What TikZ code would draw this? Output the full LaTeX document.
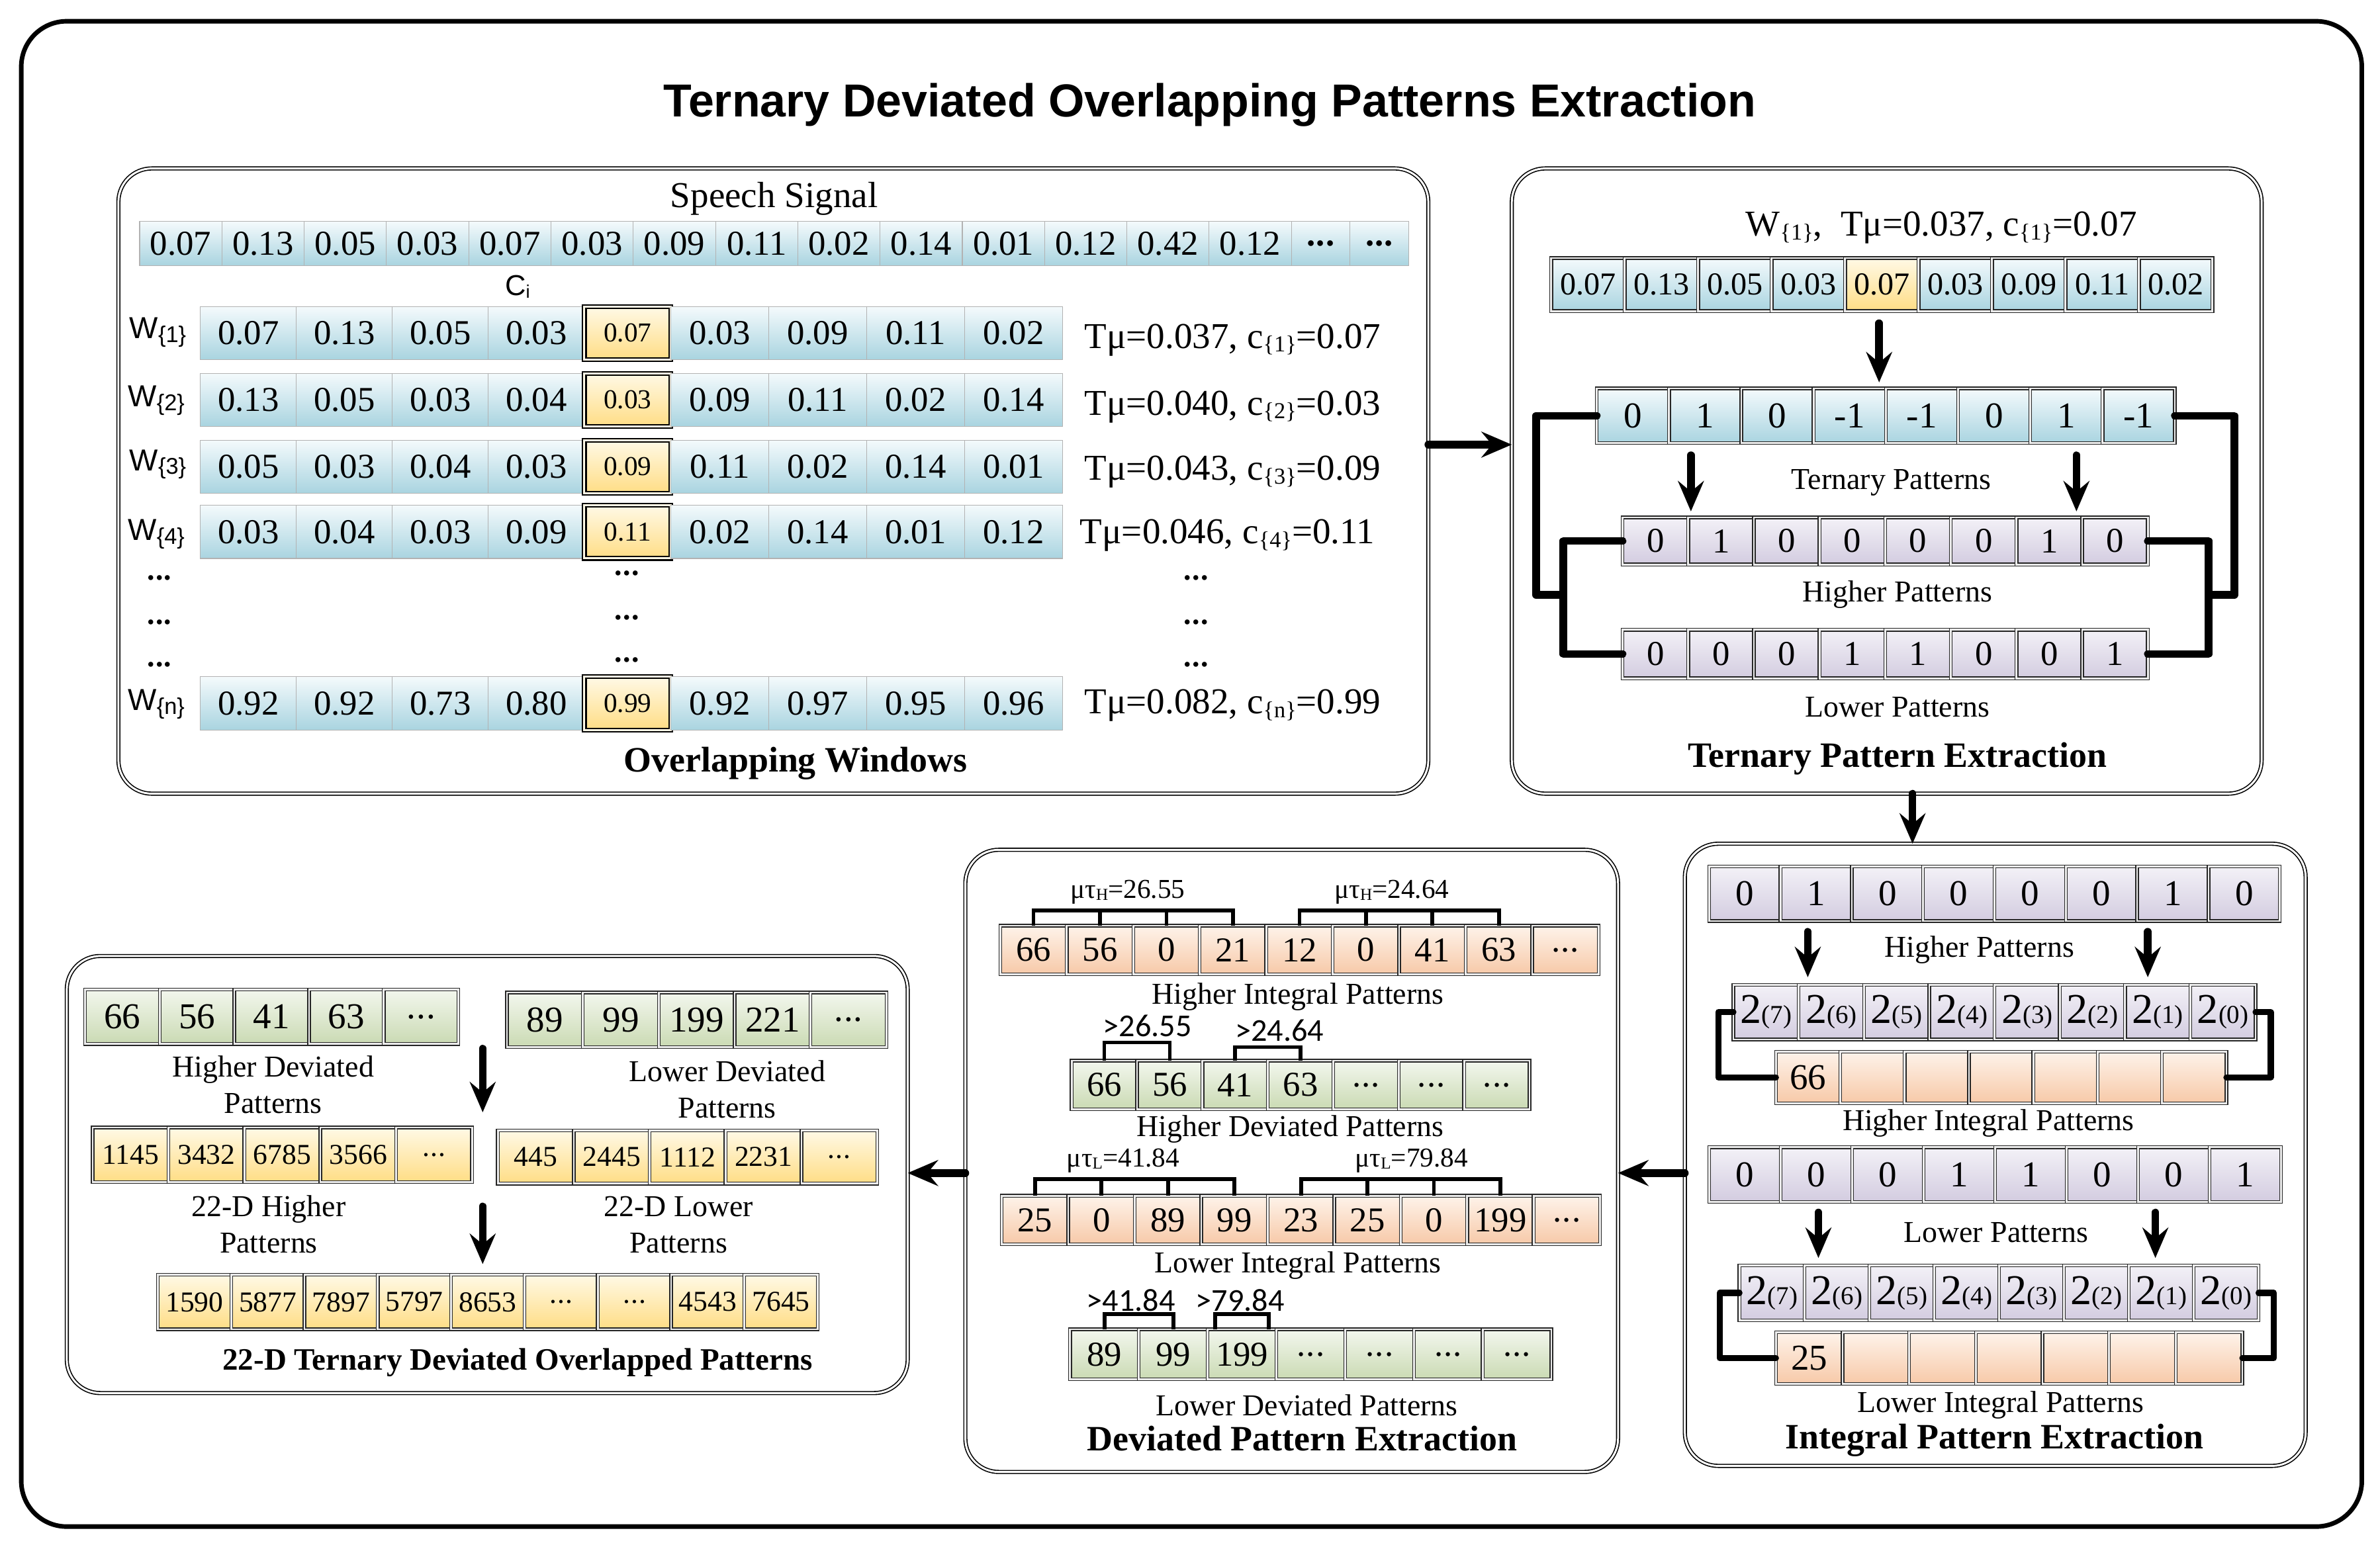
\documentclass[tikz,border=0pt]{standalone}
\usepackage{fontspec}
\setmainfont{Liberation Serif}
\newfontfamily\arialfont{Liberation Sans}
\newfontfamily\calfont{Carlito}
\usetikzlibrary{arrows.meta}
\newcommand{\myfs}[1]{\fontsize{#1}{#1}\selectfont}
\newcommand{\sbr}[1]{\raisebox{-2.5pt}{\myfs{15}\{#1\}}}
\newcommand{\pw}[1]{{\myfs{28}2}{\myfs{17}(#1)}}
\newcommand{\musub}[1]{μτ\raisebox{-1pt}{\myfs{11}#1}}
\newcommand{\dts}{.\kern0.5pt.\kern0.5pt.}
\newcommand{\bdts}{\textbf{.\kern0.5pt.\kern0.5pt.}}
\definecolor{bluetop}{HTML}{F4FAFC}
\definecolor{bluebot}{HTML}{A9D4E0}
\definecolor{yeltop}{HTML}{FFF9E6}
\definecolor{yelbot}{HTML}{FFDD85}
\definecolor{purtop}{HTML}{F3F1F7}
\definecolor{purbot}{HTML}{D3CCE0}
\definecolor{peatop}{HTML}{FEF3EA}
\definecolor{peabot}{HTML}{F7C9A8}
\definecolor{gretop}{HTML}{F3F7EE}
\definecolor{grebot}{HTML}{CADAB3}
\newcommand{\cellrow}[7]{%
  \foreach \cv [count=\ci] in {#7} {%
    \node[#6, minimum width=#4pt, minimum height=#5pt, anchor=north west] (#1-\ci) at ({#2+(\ci-1)*#4},#3) {\cv};
  }}
\newcommand{\wrow}[5]{%
  \cellrow{#1l}{132}{#2}{63.25}{35}{p1cell}{#3}
  \node[p1hl, minimum width=57pt, minimum height=35pt, anchor=north west] (#1c) at (385,#2) {#4};
  \cellrow{#1r}{442}{#2}{64.5}{35}{p1cell}{#5}}
\tikzset{
  base/.style={inner sep=0pt, outer sep=0pt},
  p1cell/.style={base, draw=gray!60, line width=0.5pt, top color=bluetop, bottom color=bluebot, font=\myfs{23}},
  p1hl/.style={base, draw=black, line width=0.9pt, double=yeltop, double distance=1.3pt, top color=yeltop, bottom color=yelbot, font=\myfs{18}},
  dc/.style={base, draw=black!85, line width=0.6pt, double=gray!15, double distance=1.2pt},
  cblue/.style={dc, top color=bluetop, bottom color=bluebot},
  cyel/.style={dc, top color=yeltop, bottom color=yelbot},
  cpur/.style={dc, top color=purtop, bottom color=purbot},
  cpea/.style={dc, top color=peatop, bottom color=peabot},
  cgre/.style={dc, top color=gretop, bottom color=grebot},
  panel/.style={draw=black, line width=0.7pt, double=white, double distance=1.3pt, rounded corners=22pt, inner sep=0pt, outer sep=0pt},
  bigarrow/.style={line width=5pt, line cap=round, -{Stealth[length=20pt,width=17pt,inset=7pt]}},
  conn/.style={line width=5pt, line cap=round, line join=round},
  connb/.style={line width=4pt, line cap=round, line join=round},
  brk/.style={line width=2.5pt},
  lab/.style={font=\myfs{20}},
  lab2/.style={font=\fontsize{20}{24}\selectfont, align=center},
  blab/.style={font=\bfseries\myfs{23.5}},
  calab/.style={font=\calfont\myfs{21}},
  mulab/.style={font=\myfs{18}},
  wl/.style={font=\arialfont\myfs{20}},
  rl/.style={font=\myfs{24}, anchor=west},
}
\begin{document}
\begin{tikzpicture}[x=1pt,y=-1pt]
\useasboundingbox (0,0) rectangle (1568,1018);
% outer frame
\node[draw=black, line width=3pt, rounded corners=30pt, minimum width=1542pt, minimum height=992pt, base] (frame) at (785,510) {};
\node[font=\arialfont\bfseries\myfs{30.5}] (title) at (797,69) {Ternary Deviated Overlapping Patterns Extraction};

% panels
\node[panel, minimum width=863pt, minimum height=412pt] (P1) at (509.5,317) {};
\node[panel, minimum width=494pt, minimum height=412pt] (P2) at (1243,317) {};
\node[panel, minimum width=409pt, minimum height=410pt] (P3) at (1314.5,761) {};
\node[panel, minimum width=430pt, minimum height=410pt] (P4) at (851,765) {};
\node[panel, minimum width=554pt, minimum height=288pt] (P5) at (321,774) {};

% ---------- Panel 1 ----------
\node[font=\myfs{24}] (ss) at (510,131) {Speech Signal};
\cellrow{sp}{92}{146}{54.2}{29}{p1cell}{0.07,0.13,0.05,0.03,0.07,0.03,0.09,0.11,0.02,0.14,0.01,0.12,0.42,0.12}
\cellrow{spd}{850.8}{146}{38.6}{29}{p1cell}{\bdts,\bdts}
\node (ci) at (341,189) {\arialfont\myfs{19}C\raisebox{-2pt}{\myfs{12}i}};
\wrow{wa}{202}{0.07,0.13,0.05,0.03}{0.07}{0.03,0.09,0.11,0.02}
\wrow{wb}{246}{0.13,0.05,0.03,0.04}{0.03}{0.09,0.11,0.02,0.14}
\wrow{wc}{290}{0.05,0.03,0.04,0.03}{0.09}{0.11,0.02,0.14,0.01}
\wrow{wd}{333}{0.03,0.04,0.03,0.09}{0.11}{0.02,0.14,0.01,0.12}
\wrow{wn}{446}{0.92,0.92,0.73,0.80}{0.99}{0.92,0.97,0.95,0.96}
\node[wl] (lwa) at (104,219) {W\sbr{1}};
\node[wl] (lwb) at (103,264) {W\sbr{2}};
\node[wl] (lwc) at (104,306) {W\sbr{3}};
\node[wl] (lwd) at (103,352) {W\sbr{4}};
\node[wl] (lwn) at (103,464) {W\sbr{n}};
\node[rl] (ra) at (711,224) {Tμ=0.037, c\sbr{1}=0.07};
\node[rl] (rb) at (711,268) {Tμ=0.040, c\sbr{2}=0.03};
\node[rl] (rc) at (711,311) {Tμ=0.043, c\sbr{3}=0.09};
\node[rl] (rd) at (708,353) {Tμ=0.046, c\sbr{4}=0.11};
\node[rl] (rn) at (711,465) {Tμ=0.082, c\sbr{n}=0.99};
\foreach \yy [count=\k] in {381,410,438} {
  \node[font=\myfs{20}] (dl\k) at (105,\yy) {\bdts};
  \node[font=\myfs{20}] (dm\k) at (413,\yy-3) {\bdts};
  \node[font=\myfs{20}] (dr\k) at (788,\yy) {\bdts};
}
\node[blab] (t1) at (524,503) {Overlapping Windows};

% ---------- Panel 2 ----------
\node[font=\myfs{24}] (h2) at (1279,150) {W\sbr{1},\ \ Tμ=0.037, c\sbr{1}=0.07};
\cellrow{wva}{1022}{170}{48.4}{35}{cblue, font=\myfs{21}}{0.07,0.13,0.05,0.03}
\node[cyel, font=\myfs{21}, minimum width=48.4pt, minimum height=35pt, anchor=north west] (wvc) at (1215.6,170) {0.07};
\cellrow{wvb}{1264}{170}{48.4}{35}{cblue, font=\myfs{21}}{0.03,0.09,0.11,0.02}
\cellrow{tr}{1052}{256}{47.6}{36}{cblue, font=\myfs{24}}{0,1,0,-1,-1,0,1,-1}
\cellrow{hp}{1069}{341}{43.25}{31}{cpur, font=\myfs{23}}{0,1,0,0,0,0,1,0}
\cellrow{lp}{1069}{415}{43.25}{32}{cpur, font=\myfs{23}}{0,0,0,1,1,0,0,1}
\draw[bigarrow, shorten <=8pt, shorten >=4pt] (1238,0 |- wvc.south) -- (1238,0 |- tr-1.north);
\draw[bigarrow, shorten <=8pt, shorten >=4pt] (1114,0 |- tr-2.south) -- (1114,0 |- hp-1.north);
\draw[bigarrow, shorten <=8pt, shorten >=4pt] (1368,0 |- tr-7.south) -- (1368,0 |- hp-7.north);
\draw[conn] (tr-1.west) -| (1012,392) -- (1030,392);
\draw[conn] (hp-1.west) -| (1030,0 |- lp-1.west) -- (lp-1.west);
\draw[conn] (tr-8.east) -| (1472,392) -- (1455,392);
\draw[conn] (hp-8.east) -| (1455,0 |- lp-8.east) -- (lp-8.east);
\node[lab] (l2a) at (1246,318) {Ternary Patterns};
\node[lab] (l2b) at (1250,392) {Higher Patterns};
\node[lab] (l2c) at (1250,466) {Lower Patterns};
\node[blab] (t2) at (1250,500) {Ternary Pattern Extraction};

% ---------- Panel 3 ----------
\cellrow{ha}{1126}{571}{47}{36}{cpur, font=\myfs{24}}{0,1,0,0,0,0,1,0}
\cellrow{pa}{1142}{649}{43}{36}{cpur}{\pw{7},\pw{6},\pw{5},\pw{4},\pw{3},\pw{2},\pw{1},\pw{0}}
\cellrow{ia}{1170}{693}{42.4}{34}{cpea, font=\myfs{24}}{66,{},{},{},{},{},{}}
\draw[bigarrow, shorten <=7pt, shorten >=5pt] (1191,0 |- ha-2.south) -- (1191,0 |- pa-2.north);
\draw[bigarrow, shorten <=7pt, shorten >=5pt] (1415,0 |- ha-7.south) -- (1415,0 |- pa-7.north);
\draw[connb] (pa-1.west) -| (1132,0 |- ia-1.west) -- (ia-1.west);
\draw[connb] (pa-8.east) -| (1496,0 |- ia-7.east) -- (ia-7.east);
\node[lab] (l3a) at (1304,626) {Higher Patterns};
\node[lab] (l3b) at (1310,740) {Higher Integral Patterns};
\cellrow{la}{1126}{756}{47.1}{36}{cpur, font=\myfs{24}}{0,0,0,1,1,0,0,1}
\cellrow{pb}{1146}{834}{42.75}{36}{cpur}{\pw{7},\pw{6},\pw{5},\pw{4},\pw{3},\pw{2},\pw{1},\pw{0}}
\cellrow{ib}{1170}{878}{43.9}{34}{cpea, font=\myfs{24}}{25,{},{},{},{},{},{}}
\draw[bigarrow, shorten <=7pt, shorten >=5pt] (1198,0 |- la-2.south) -- (1198,0 |- pb-2.north);
\draw[bigarrow, shorten <=7pt, shorten >=5pt] (1420,0 |- la-7.south) -- (1420,0 |- pb-7.north);
\draw[connb] (pb-1.west) -| (1133,0 |- ib-1.west) -- (ib-1.west);
\draw[connb] (pb-8.east) -| (1498,0 |- ib-7.east) -- (ib-7.east);
\node[lab] (l3c) at (1315,812) {Lower Patterns};
\node[lab] (l3d) at (1318,926) {Lower Integral Patterns};
\node[blab] (t3) at (1314,949) {Integral Pattern Extraction};

% ---------- Panel 4 ----------
\node[mulab] (m1) at (743,588) {\musub{H}=26.55};
\node[mulab] (m2) at (917,588) {\musub{H}=24.64};
\cellrow{hi}{659}{610}{43.8}{32}{cpea, font=\myfs{23}}{66,56,0,21,12,0,41,63,\dts}
\draw[brk] (hi-1.north) -- ++(0,-10) -| (hi-4.north);
\draw[brk] (hi-2.north) -- ++(0,-10);
\draw[brk] (hi-3.north) -- ++(0,-10);
\draw[brk] (hi-5.north) -- ++(0,-10) -| (hi-8.north);
\draw[brk] (hi-6.north) -- ++(0,-10);
\draw[brk] (hi-7.north) -- ++(0,-10);
\node[lab] (l4a) at (855,657) {Higher Integral Patterns};
\node[calab] (g1) at (756,676) {>26.55};
\node[calab] (g2) at (843,679) {>24.64};
\cellrow{hd}{706}{699}{43.1}{32}{cgre, font=\myfs{23}}{66,56,41,63,\dts,\dts,\dts}
\draw[brk] (hd-1.north) -- ++(0,-12) -| (hd-2.north);
\draw[brk] (hd-3.north) -- ++(0,-9) -| (hd-4.north);
\node[lab] (l4b) at (850,744) {Higher Deviated Patterns};
\node[mulab] (m3) at (740,765) {\musub{L}=41.84};
\node[mulab] (m4) at (930,765) {\musub{L}=79.84};
\cellrow{li}{660}{788}{43.8}{32}{cpea, font=\myfs{23}}{25,0,89,99,23,25,0,199,\dts}
\draw[brk] (li-1.north) -- ++(0,-11) -| (li-4.north);
\draw[brk] (li-2.north) -- ++(0,-11);
\draw[brk] (li-3.north) -- ++(0,-11);
\draw[brk] (li-5.north) -- ++(0,-11) -| (li-8.north);
\draw[brk] (li-6.north) -- ++(0,-11);
\draw[brk] (li-7.north) -- ++(0,-11);
\node[lab] (l4c) at (855,834) {Lower Integral Patterns};
\node[calab] (g3) at (745,857) {>41.84};
\node[calab] (g4) at (817,857) {>79.84};
\cellrow{ld}{705}{876}{45.3}{33}{cgre, font=\myfs{23}}{89,99,199,\dts,\dts,\dts,\dts}
\draw[brk] (ld-1.north) -- ++(0,-10) -| (ld-2.north);
\draw[brk] ([xshift=5pt]ld-3.north west) -- ++(0,-10) -| ([xshift=-5pt]ld-3.north east);
\node[lab] (l4d) at (861,926) {Lower Deviated Patterns};
\node[blab] (t4) at (858,948) {Deviated Pattern Extraction};

% ---------- Panel 5 ----------
\cellrow{ga}{56}{652}{49.2}{36}{cgre, font=\myfs{24}}{66,56,41,63,\dts}
\cellrow{gb}{334}{654}{50}{36}{cgre, font=\myfs{24}}{89,99,199,221,\dts}
\node[lab2] (l5a) at (180,715) {Higher Deviated\\Patterns};
\node[lab2] (l5b) at (479,718) {Lower Deviated\\Patterns};
\cellrow{ya}{61}{743}{50}{36}{cyel, font=\myfs{19}}{1145,3432,6785,3566,\dts}
\cellrow{yb}{328}{745}{50}{35}{cyel, font=\myfs{19}}{445,2445,1112,2231,\dts}
\draw[bigarrow, shorten <=3pt, shorten >=10pt] (318,0 |- ga-1.south) -- (318,0 |- ya-1.north);
\node[lab2] (l5c) at (177,807) {22-D Higher\\Patterns};
\node[lab2] (l5d) at (447,807) {22-D Lower\\Patterns};
\cellrow{fin}{104}{840}{48.3}{36}{cyel, font=\myfs{19}}{1590,5877,7897,5797,8653,\dts,\dts,4543,7645}
\draw[bigarrow, shorten <=16pt, shorten >=7pt] (318,0 |- ya-1.south) -- (318,0 |- fin-1.north);
\node[blab, font=\bfseries\myfs{20.5}] (t5) at (341,898) {22-D Ternary Deviated Overlapped Patterns};

% ---------- inter-panel arrows ----------
\draw[bigarrow] ([yshift=24pt]P1.east) -- ([yshift=24pt]P2.west);
\draw[bigarrow] (1260,0 |- P2.south) -- (1260,0 |- P3.north);
\draw[bigarrow] (P3.west |- 0,773) -- (P4.east |- 0,773);
\draw[bigarrow] (P4.west |- 0,773) -- (P5.east |- 0,773);
\end{tikzpicture}
\end{document}
